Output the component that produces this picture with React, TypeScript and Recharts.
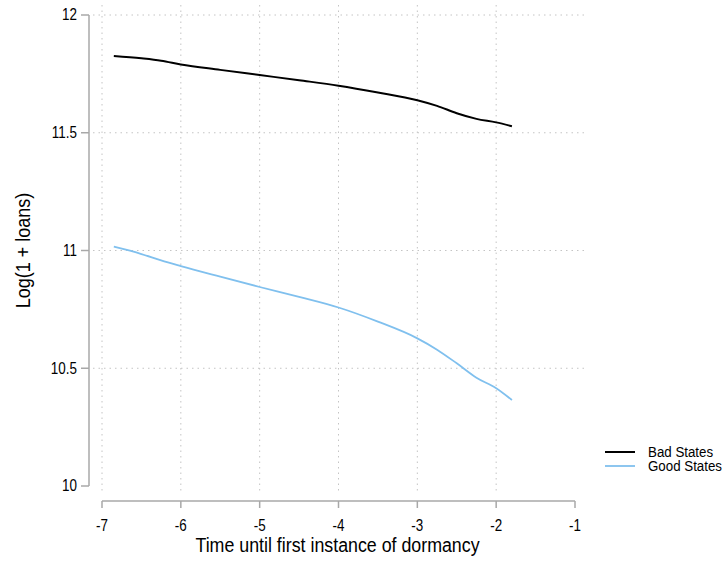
import { LineChart, Line, XAxis, YAxis, CartesianGrid, Legend, ReferenceLine } from 'recharts';

const FONT = '"Liberation Sans", Arial, sans-serif';
const NARROW = 0.84;

const times = [-6.85, -6.5, -6.25, -6, -5.5, -5, -4.5, -4, -3.5, -3, -2.75, -2.5, -2.25, -2, -1.8];
const badStates = [11.826, 11.816, 11.806, 11.79, 11.767, 11.745, 11.723, 11.7, 11.671, 11.638, 11.614, 11.583, 11.559, 11.544, 11.528];
const goodStates = [11.016, 10.985, 10.958, 10.934, 10.889, 10.845, 10.803, 10.758, 10.698, 10.627, 10.579, 10.521, 10.46, 10.415, 10.365];

const xTicks = [-7, -6, -5, -4, -3, -2, -1];
const yTicks = [10, 10.5, 11, 11.5, 12];

const series = [
  { key: 'bad', name: 'Bad States', color: '#000000', width: 2 },
  { key: 'good', name: 'Good States', color: '#80c0ee', width: 1.8 },
];

const data = times.map((t, i) => ({ t, bad: badStates[i], good: goodStates[i] }));

const AXIS = '#a8a8a8';

// narrow text, like the Stata default face
const NText = ({ x, y, anchor = 'middle', size = 16, baseline, narrow = NARROW, children }: any) => (
  <text
    transform={`translate(${x} ${y}) scale(${narrow} 1)`}
    textAnchor={anchor}
    dominantBaseline={baseline}
    fontFamily={FONT}
    fontSize={size}
    fill="#000"
  >
    {children}
  </text>
);

const XTick = ({ x, y, payload }: any) => (
  <g>
    <line x1={x} x2={x} y1={y + 15} y2={y + 22} stroke={AXIS} strokeWidth={1.5} />
    <NText x={x} y={y + 45}>{payload.value}</NText>
  </g>
);

const YTick = ({ x, y, payload }: any) => (
  <g>
    <line x1={x - 21} x2={x - 13} y1={y} y2={y} stroke={AXIS} strokeWidth={1.5} />
    <NText x={x - 25} y={y} anchor="end" baseline="central">{payload.value}</NText>
  </g>
);

const XTitle = ({ viewBox }: any) => (
  <NText x={viewBox.x + viewBox.width / 2 - 1} y={viewBox.y + viewBox.height - 9} size={20} narrow={0.89}>
    Time until first instance of dormancy
  </NText>
);

const YTitle = ({ viewBox }: any) => {
  const cx = viewBox.x + 30;
  const cy = viewBox.y + viewBox.height / 2;
  return (
    <text
      transform={`translate(${cx} ${cy}) rotate(-90) scale(0.9 1)`}
      textAnchor="middle"
      fontFamily={FONT}
      fontSize={20}
      fill="#000"
    >
      Log(1 + loans)
    </text>
  );
};

const LegendBox = () => (
  <svg width={126} height={40}>
    {series.map((s, i) => (
      <g key={s.key}>
        <line x1={5} x2={35} y1={12 + i * 14} y2={12 + i * 14} stroke={s.color} strokeWidth={s.width} />
        <NText x={48} y={12 + i * 14} anchor="start" baseline="central" size={15.5} narrow={0.86}>{s.name}</NText>
      </g>
    ))}
  </svg>
);

export default function App() {
  return (
    <div>
      <style>{'body { margin: 0; }'}</style>
      <LineChart width={726} height={561} data={data} margin={{ top: 15, right: 151, bottom: 0, left: 0 }}>
        <CartesianGrid
          x={93}
          y={5}
          width={494}
          height={489}
          stroke="#c4c4c4"
          strokeDasharray="1.5 4"
          horizontalValues={[10.5, 11, 11.5, 12]}
          verticalValues={[-7, -6, -5, -4, -3, -2]}
        />
        <XAxis
          dataKey="t"
          type="number"
          domain={[-7, -1]}
          ticks={xTicks}
          height={75}
          tickSize={0}
          tickMargin={0}
          axisLine={false}
          tickLine={false}
          tick={<XTick />}
          label={<XTitle />}
        />
        <YAxis
          type="number"
          domain={[10, 12]}
          ticks={yTicks}
          width={102}
          tickSize={0}
          tickMargin={0}
          axisLine={false}
          tickLine={false}
          tick={<YTick />}
          label={<YTitle />}
        />
        {/* detached axis lines, offset from the plot region */}
        <ReferenceLine
          y={10}
          stroke={AXIS}
          strokeWidth={1.5}
          shape={(p: any) => <line x1={p.x1} x2={p.x2} y1={p.y1 + 15} y2={p.y2 + 15} stroke={AXIS} strokeWidth={1.5} />}
        />
        <ReferenceLine
          x={-7}
          stroke={AXIS}
          strokeWidth={1.5}
          shape={(p: any) => <line x1={p.x1 - 13} x2={p.x2 - 13} y1={p.y1} y2={p.y2} stroke={AXIS} strokeWidth={1.5} />}
        />
        <Legend
          layout="vertical"
          align="center"
          verticalAlign="middle"
          wrapperStyle={{ left: 600, top: 440, width: 126 }}
          content={<LegendBox />}
        />
        {series.map(s => (
          <Line
            key={s.key}
            dataKey={s.key}
            name={s.name}
            type="monotone"
            stroke={s.color}
            strokeWidth={s.width}
            dot={false}
            isAnimationActive={false}
          />
        ))}
      </LineChart>
    </div>
  );
}
